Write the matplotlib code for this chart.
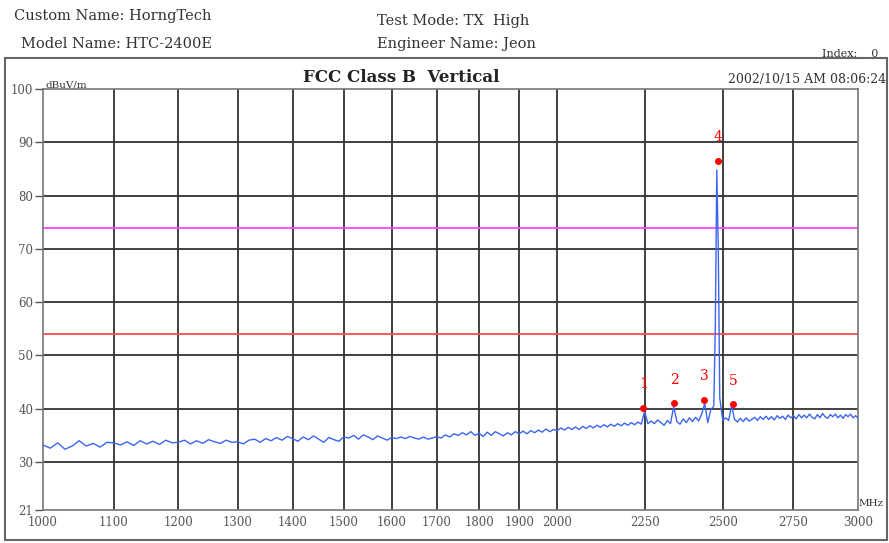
import matplotlib
matplotlib.use("Agg")
import matplotlib.pyplot as plt
from matplotlib.patches import Rectangle
from matplotlib.ticker import FixedLocator, NullLocator

# ---------------- data ----------------
freq_base = list(range(1000, 2470, 10))
level_base = [
    33.2, 32.6, 33.6, 32.4, 33.0, 34.0, 33.0, 33.5, 32.8, 33.7,
    33.6, 33.2, 33.8, 33.1, 34.0, 33.4, 33.9, 33.3, 34.1, 33.6,
    33.7, 34.1, 33.4, 34.0, 33.5, 34.2, 33.8, 33.5, 34.1, 33.7,
    33.8, 33.4, 34.1, 34.3, 33.7, 34.4, 34.0, 34.6, 34.1, 34.8,
    34.4, 33.9, 34.7, 34.2, 34.9, 34.3, 33.7, 34.6, 34.2, 33.9,
    34.7, 34.5, 35.0, 34.3, 35.1, 34.7, 34.2, 34.9, 34.5, 34.1,
    34.6, 34.4, 34.7, 34.4, 34.8, 34.5, 34.3, 34.7, 34.3, 34.5,
    34.8, 34.5, 35.1, 34.7, 35.3, 35.0, 35.5, 35.1, 35.7, 35.0,
    35.4, 34.8, 35.6, 35.0, 35.7, 35.3, 34.9, 35.5, 35.1, 35.7,
    35.3, 35.8, 35.3, 35.9, 35.5, 36.0, 35.6, 36.2, 35.7, 36.1,
    35.9, 36.4, 36.0, 36.5, 36.1, 36.6, 36.1, 36.7, 36.3, 36.8,
    36.4, 36.9, 36.5, 37.0, 36.6, 37.1, 36.7, 37.2, 36.8, 37.3,
    36.9, 37.4, 37.0, 37.5, 37.1, 39.5, 37.2, 37.7, 37.2, 37.9,
    37.4, 36.9, 37.8, 37.2, 40.4, 37.6, 37.1, 38.1, 37.4, 38.3,
    37.6, 38.4, 37.7, 39.0, 41.0, 37.4, 39.8,
]
freq_peak = [2470, 2475, 2480, 2485, 2490]
level_peak = [40.5, 55.0, 84.8, 70.0, 42.0]
freq_tail = list(range(2500, 3010, 10))
level_tail = [
    37.8, 38.3, 37.8, 40.6, 38.0, 37.5, 38.2, 37.6, 38.3, 37.7,
    38.0, 38.4, 37.8, 38.5, 38.0, 38.6, 38.0, 38.5, 37.9, 38.7,
    38.2, 38.6, 38.0, 38.8, 38.3, 38.7, 38.1, 38.9, 38.3, 38.8,
    38.3, 39.0, 38.4, 38.1, 38.9, 38.3, 39.1, 38.5, 38.2, 38.9,
    38.5, 39.0, 38.3, 38.8, 38.2, 38.9, 38.5, 39.0, 38.3, 38.7,
    38.3,
]
freqs = freq_base + freq_peak + freq_tail
levels = level_base + level_peak + level_tail

marker_ids = ["1", "2", "3", "4", "5"]
marker_freq = [2246, 2342, 2438, 2485, 2535]
marker_level = [40.2, 41.0, 41.7, 86.5, 40.8]

limit_qp = 54
limit_pk = 74

x_ticks = [1000, 1100, 1200, 1300, 1400, 1500, 1600, 1700, 1800, 1900,
           2000, 2250, 2500, 2750, 3000]
y_ticks = [21, 30, 40, 50, 60, 70, 80, 90, 100]

# ---------------- figure ----------------
W, H = 889, 543
fig = plt.figure(figsize=(W / 100, H / 100), dpi=100)
fig.patch.set_facecolor("white")
serif = ["DejaVu Serif"]
gray = "#555555"

def fx(px):
    return px / W

def fy(py):
    return 1 - py / H

ax = fig.add_axes([fx(43), fy(510), fx(858) - fx(43), fy(89) - fy(510)])
ax.set_xscale("log")
ax.set_xlim(1000, 3000)
ax.set_ylim(21, 100)
ax.xaxis.set_major_locator(FixedLocator(x_ticks))
ax.xaxis.set_minor_locator(NullLocator())
ax.set_xticks(x_ticks)
ax.set_xticklabels([str(t) for t in x_ticks], fontfamily=serif, fontsize=8.5,
                   color=gray)
ax.set_yticks(y_ticks)
ax.set_yticklabels([str(t) for t in y_ticks], fontfamily=serif, fontsize=8.5,
                   color=gray)
ax.tick_params(axis="y", direction="out", length=6, width=1, color=gray, pad=1)
ax.tick_params(axis="x", direction="in", length=0, pad=4)
for s in ax.spines.values():
    s.set_color("#777777")
    s.set_linewidth(1.2)

for t in x_ticks[1:-1]:
    ax.axvline(t, color="#333333", lw=1.3, zorder=1)
for t in y_ticks[1:-1]:
    ax.axhline(t, color="#333333", lw=1.3, zorder=1)

ax.axhline(limit_pk, color="#ff44ff", lw=1.3, zorder=2)
ax.axhline(limit_qp, color="#ff4d4d", lw=1.3, zorder=2)

ax.plot(freqs, levels, color="#3a66f0", lw=1.0, zorder=3)
ax.plot(marker_freq, marker_level, "o", color="red", ms=4, zorder=4, ls="none")
for lab, f, v in zip(marker_ids, marker_freq, marker_level):
    ax.annotate(lab, (f, v), xytext=(0, 12), textcoords="offset points",
                ha="center", va="bottom", color="red", fontsize=10,
                fontfamily=serif)

# outer frame
fig.add_artist(Rectangle((fx(5), fy(540)), fx(887) - fx(5), fy(58) - fy(540),
                         transform=fig.transFigure, fill=False,
                         edgecolor="#666666", lw=1.5))

# header texts
hdr = dict(fontfamily=serif, fontsize=10.5, color="#333333", va="center")
fig.text(fx(14), fy(16), "Custom Name: HorngTech", **hdr)
fig.text(fx(21), fy(44), "Model Name: HTC-2400E", **hdr)
fig.text(fx(377), fy(21), "Test Mode: TX  High", **hdr)
fig.text(fx(377), fy(44), "Engineer Name: Jeon", **hdr)
fig.text(fx(822), fy(54), "Index:    0", fontfamily=serif, fontsize=8,
         color="#333333", va="center")
fig.text(fx(401), fy(78), "FCC Class B  Vertical", fontfamily=serif, fontsize=12,
         fontweight="bold", color="#222222", ha="center", va="center")
fig.text(fx(886), fy(79), "2002/10/15 AM 08:06:24", fontfamily=serif, fontsize=9,
         color="#333333", ha="right", va="center")
fig.text(fx(46), fy(85), "dBuV/m", fontfamily=serif, fontsize=7.5,
         color="#333333", ha="left", va="center")
fig.text(fx(859), fy(503), "MHz", fontfamily=serif, fontsize=7.5,
         color="#333333", ha="left", va="center")

fig.savefig("out.png", dpi=100)
